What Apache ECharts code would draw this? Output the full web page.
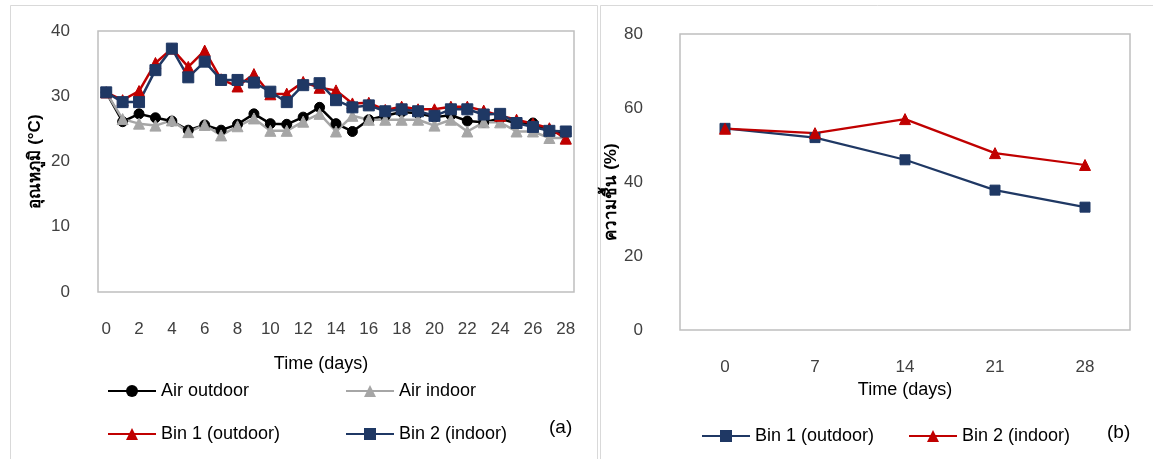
<!DOCTYPE html>
<html><head><meta charset="utf-8">
<script src="https://cdn.jsdelivr.net/npm/echarts@6/dist/echarts.min.js"></script>
<style>html,body{margin:0;padding:0;background:#fff}#c{width:1153px;height:459px}</style>
</head><body><div id="c"></div>
<script>
// ---- data: chart (a) temperature ----
const daysA = ['0','1','2','3','4','5','6','7','8','9','10','11','12','13','14','15','16','17','18','19','20','21','22','23','24','25','26','27','28'];
const airOutdoor = [30.6,26.1,27.3,26.7,26.2,24.8,25.6,24.8,25.7,27.3,25.8,25.7,26.8,28.3,25.8,24.6,26.4,27.0,27.6,27.4,26.8,27.1,26.2,26.0,26.6,25.8,25.9,24.5,24.3];
const airIndoor  = [30.6,26.5,25.8,25.5,26.3,24.5,25.6,24.0,25.4,26.6,24.7,24.7,26.1,27.3,24.6,27.0,26.4,26.4,26.4,26.4,25.5,26.4,24.6,26.0,26.0,24.6,24.6,23.6,23.6];
const bin1A      = [30.6,29.4,30.8,35.1,37.3,34.5,37.0,32.6,31.5,33.4,30.3,30.4,32.2,31.3,30.9,28.9,29.0,27.9,28.4,28.0,28.0,28.4,28.4,27.8,27.0,26.4,25.8,25.1,23.5];
const bin2A      = [30.6,29.1,29.1,34.0,37.3,32.9,35.3,32.5,32.5,32.1,30.7,29.1,31.7,32.0,29.4,28.3,28.6,27.7,28.0,27.7,27.0,28.0,28.0,27.2,27.3,25.9,25.3,24.7,24.6];
const yTicksA = [0,10,20,30,40];
// ---- data: chart (b) moisture ----
const daysB = ['0','7','14','21','28'];
const bin1B = [54.5,52.0,46.0,37.8,33.2];
const bin2B = [54.4,53.2,57.0,47.8,44.6];
const yTicksB = [0,20,40,60,80];

const FONT = 'Liberation Sans, Noto Sans, DejaVu Sans, sans-serif';
const C_BLACK = '#000000', C_GREY = '#A6A6A6', C_RED = '#C00000', C_BLUE = '#1F3864';
const labelStyle = {color:'#404040', fontSize:17, fontFamily:FONT};

const chart = echarts.init(document.getElementById('c'), null, {renderer:'canvas'});

function lineSeries(name, data, color, symbol, size, xi, yi, lw){
  return {name, type:'line', data, xAxisIndex:xi, yAxisIndex:yi, symbol, symbolSize:size,
    showAllSymbol:true, showSymbol:true,
    lineStyle:{color, width:lw}, itemStyle:{color, borderColor:color}, animation:false};
}
function legendAt(name, left, top){
  return {data:[name], left, top, itemWidth:48, itemHeight:15, itemGap:4,
    textStyle:{color:'#000', fontSize:18, fontFamily:FONT}, selectedMode:false};
}

chart.setOption({
  animation:false,
  backgroundColor:'#fff',
  grid:[
    {left:98, top:31, width:476, height:261, show:true, borderColor:'#BFBFBF', borderWidth:1.5, backgroundColor:'transparent'},
    {left:680, top:34, width:450, height:296, show:true, borderColor:'#BFBFBF', borderWidth:1.5, backgroundColor:'transparent'}
  ],
  xAxis:[
    {type:'category', gridIndex:0, data:daysA, boundaryGap:true,
      axisLine:{show:false}, axisTick:{show:false},
      axisLabel:Object.assign({interval:1, margin:29}, labelStyle),
      name:'Time (days)', nameLocation:'middle', nameGap:63,
      nameTextStyle:{color:'#000', fontSize:18, fontFamily:FONT, padding:[0,30,0,0]}},
    {type:'category', gridIndex:1, data:daysB, boundaryGap:true,
      axisLine:{show:false}, axisTick:{show:false},
      axisLabel:Object.assign({interval:0, margin:29}, labelStyle),
      name:'Time (days)', nameLocation:'middle', nameGap:51,
      nameTextStyle:{color:'#000', fontSize:18, fontFamily:FONT}}
  ],
  yAxis:[
    {type:'value', gridIndex:0, min:yTicksA[0], max:yTicksA[yTicksA.length-1], interval:10,
      axisLine:{show:false}, axisTick:{show:false}, splitLine:{show:false},
      axisLabel:Object.assign({margin:28}, labelStyle),
      name:'อุณหภูมิ (°C)', nameLocation:'middle', nameGap:54,
      nameTextStyle:{color:'#000', fontSize:17, fontWeight:'bold', fontFamily:FONT}},
    {type:'value', gridIndex:1, min:yTicksB[0], max:yTicksB[yTicksB.length-1], interval:20,
      axisLine:{show:false}, axisTick:{show:false}, splitLine:{show:false},
      axisLabel:Object.assign({margin:37}, labelStyle),
      name:'ความชื้น (%)', nameLocation:'middle', nameGap:53,
      nameTextStyle:{color:'#000', fontSize:17, fontWeight:'bold', fontFamily:FONT, padding:[0,20,0,0]}}
  ],
  legend:[
    legendAt('Air outdoor', 102, 377),
    legendAt('Air indoor', 340, 377),
    legendAt('Bin 1 (outdoor)', 102, 420),
    legendAt('Bin 2 (indoor)', 340, 420),
    legendAt('Bin 1 (outdoor) ', 696, 422),
    legendAt('Bin 2 (indoor) ', 903, 422)
  ],
  series:[
    lineSeries('Air outdoor', airOutdoor, C_BLACK, 'circle', 10, 0, 0, 2.5),
    lineSeries('Air indoor', airIndoor, C_GREY, 'triangle', 11, 0, 0, 2.5),
    lineSeries('Bin 1 (outdoor)', bin1A, C_RED, 'triangle', 11, 0, 0, 2.5),
    lineSeries('Bin 2 (indoor)', bin2A, C_BLUE, 'rect', 11, 0, 0, 2.5),
    lineSeries('Bin 1 (outdoor) ', bin1B, C_BLUE, 'rect', 10, 1, 1, 2.2),
    lineSeries('Bin 2 (indoor) ', bin2B, C_RED, 'triangle', 11, 1, 1, 2.2)
  ],
  graphic:[
    {type:'rect', shape:{x:10.5, y:5.5, width:587, height:470}, style:{fill:null, stroke:'#D9D9D9', lineWidth:1}, silent:true},
    {type:'rect', shape:{x:600.5, y:5.5, width:570, height:470}, style:{fill:null, stroke:'#D9D9D9', lineWidth:1}, silent:true},
    {type:'text', left:549, top:418, style:{text:'(a)', fill:'#000', fontSize:19, fontFamily:FONT}},
    {type:'text', left:1107, top:423, style:{text:'(b)', fill:'#000', fontSize:19, fontFamily:FONT}}
  ]
});
</script></body></html>
